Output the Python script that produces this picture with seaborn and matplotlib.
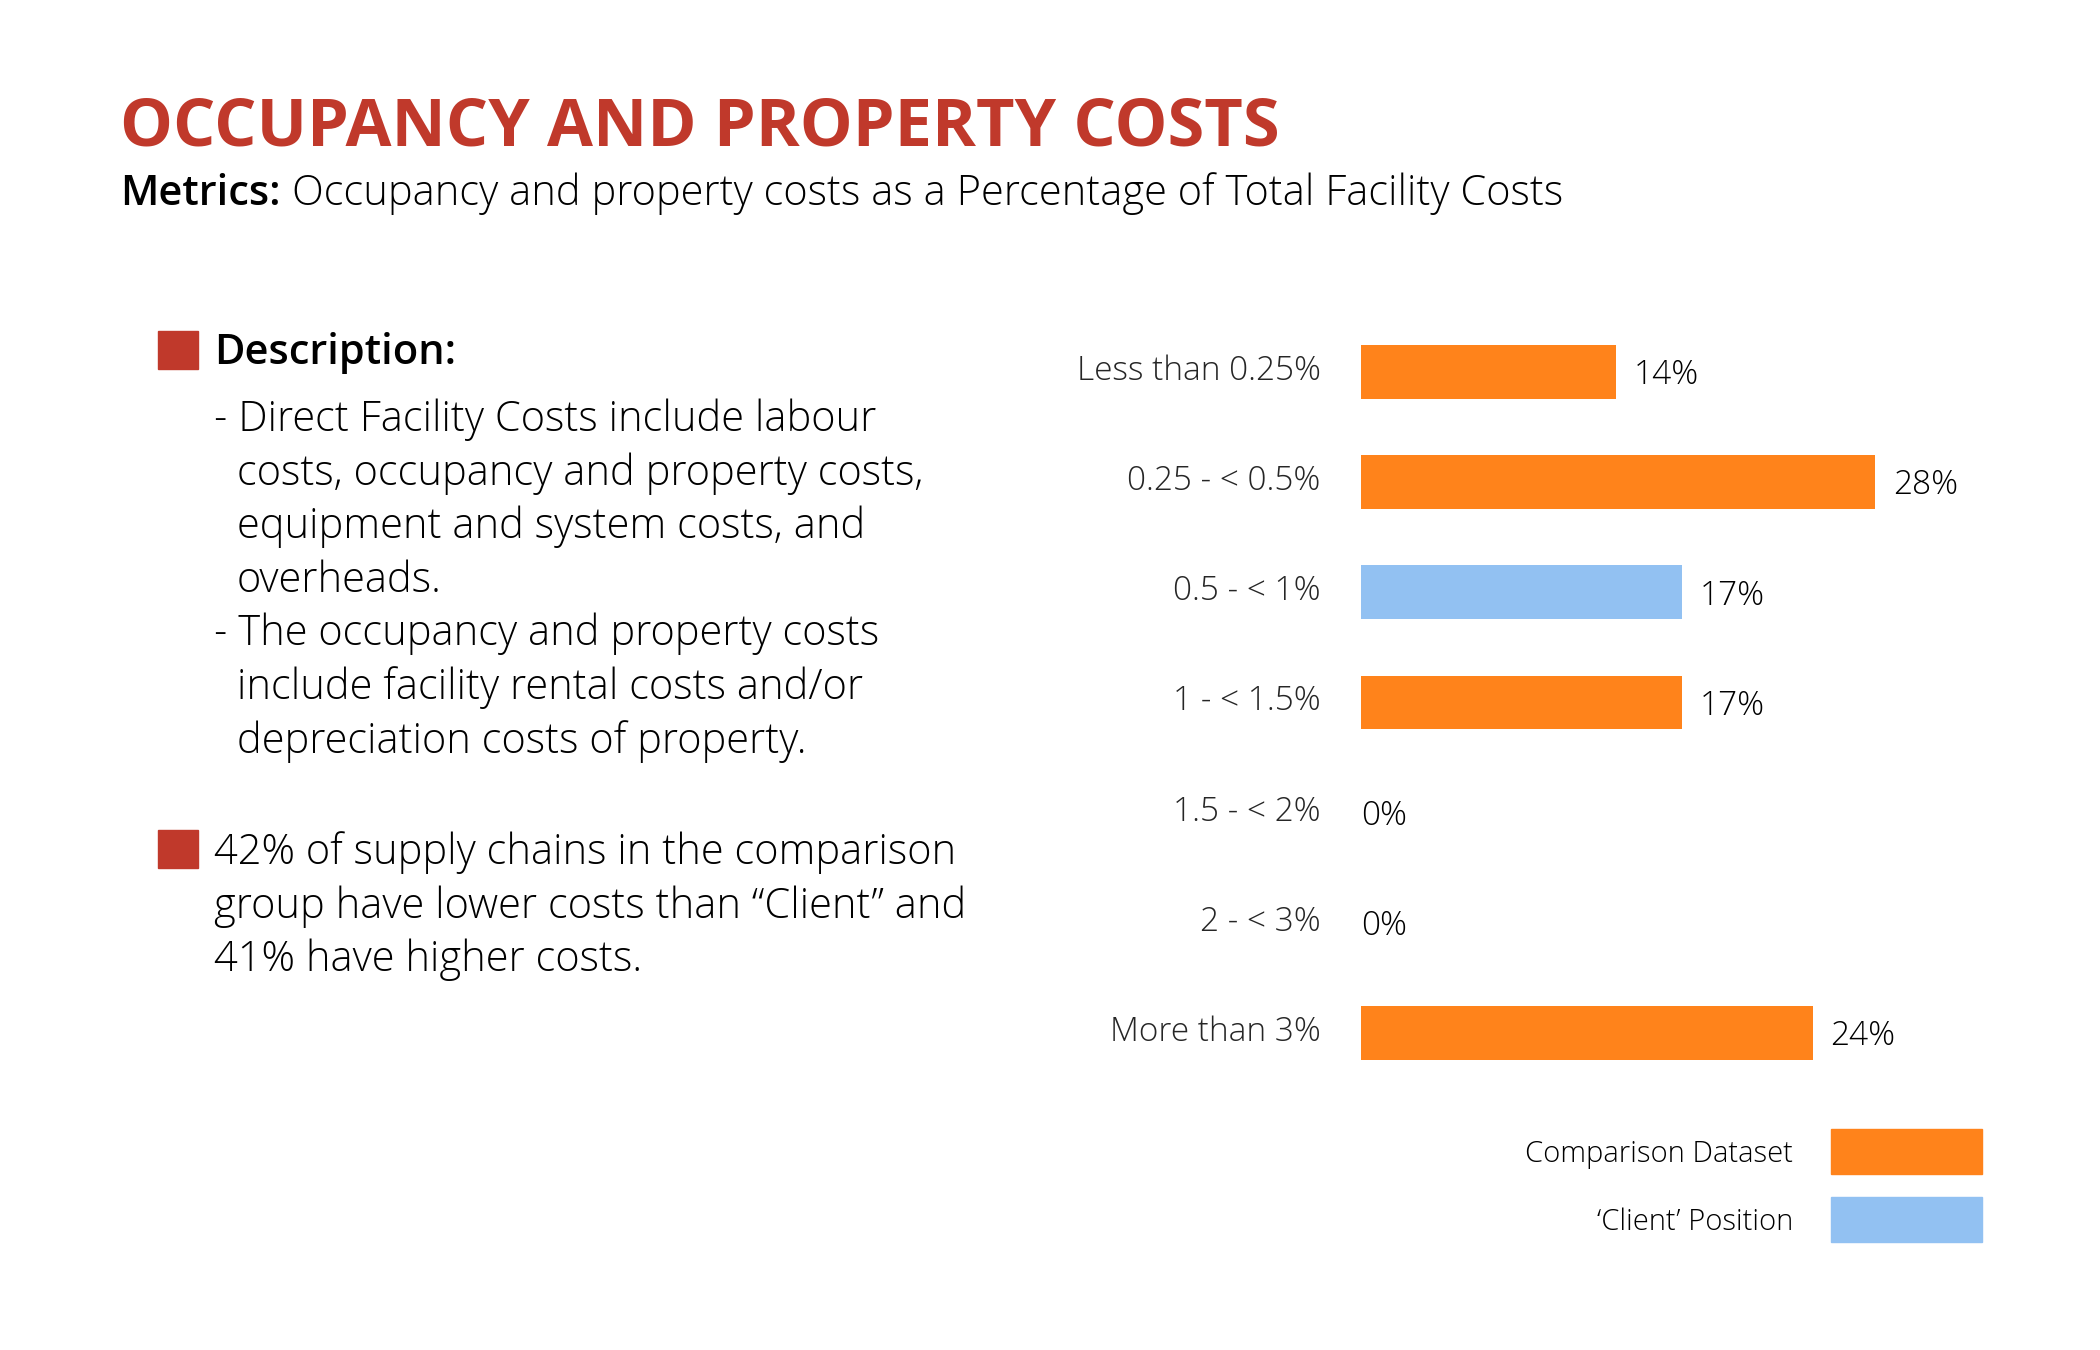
import matplotlib
matplotlib.use('Agg')
import matplotlib.pyplot as plt
from matplotlib.patches import Rectangle
from matplotlib.transforms import ScaledTranslation
import pandas as pd
import seaborn as sns

# data
categories = ['Less than 0.25%', '0.25 - < 0.5%', '0.5 - < 1%', '1 - < 1.5%',
              '1.5 - < 2%', '2 - < 3%', 'More than 3%']
values = [13.9, 28.0, 17.5, 17.5, 0, 0, 24.6]
value_labels = ['14%', '28%', '17%', '17%', '0%', '0%', '24%']
groups = ['Comparison Dataset', 'Comparison Dataset', '‘Client’ Position',
          'Comparison Dataset', 'Comparison Dataset', 'Comparison Dataset',
          'Comparison Dataset']
legend_order = ['Comparison Dataset', '‘Client’ Position']

title = 'OCCUPANCY AND PROPERTY COSTS'
subtitle_bold = 'Metrics:'
subtitle_rest = 'Occupancy and property costs as a Percentage of Total Facility Costs'
desc_heading = 'Description:'
desc_lines = ['- Direct Facility Costs include labour',
              'costs, occupancy and property costs,',
              'equipment and system costs, and',
              'overheads.',
              '- The occupancy and property costs',
              'include facility rental costs and/or',
              'depreciation costs of property.']
finding_lines = ['42% of supply chains in the comparison',
                 'group have lower costs than “Client” and',
                 '41% have higher costs.']

orange = '#FF831B'
blue = '#92C1F2'
red = '#C0392B'
palette = {legend_order[0]: orange, legend_order[1]: blue}

sns.set_theme(style='white')
plt.rcParams['font.family'] = ['Open Sans', 'DejaVu Sans']

W, H = 2100, 1350
fig = plt.figure(figsize=(21, 13.5), dpi=100)

def fx(px):
    return px / W

def fy(px):
    return 1 - px / H

# title block
fig.text(fx(120), fy(145), title, fontsize=48, fontweight='bold', color=red, va='baseline')
t = fig.text(fx(120), fy(205), subtitle_bold, fontsize=30, fontweight='semibold', color='black', va='baseline')
fig.canvas.draw()
bb = t.get_window_extent(fig.canvas.get_renderer())
fig.text(bb.x1 / W + fx(11), fy(205), subtitle_rest, fontsize=30, fontweight='light', color='black', va='baseline')

# left description
fig.patches.append(Rectangle((fx(158), fy(369)), fx(40), 38 / H, transform=fig.transFigure, color=red, figure=fig))
fig.text(fx(214), fy(364), desc_heading, fontsize=30, fontweight='semibold', color='black', va='baseline')
for i, line in enumerate(desc_lines):
    x = 214 if line.startswith('-') else 237
    fig.text(fx(x), fy(431 + i * 53.6), line, fontsize=30, fontweight='light', color='black', va='baseline')

fig.patches.append(Rectangle((fx(158), fy(868)), fx(40), 38 / H, transform=fig.transFigure, color=red, figure=fig))
for i, line in enumerate(finding_lines):
    fig.text(fx(214), fy(864 + i * 53.6), line, fontsize=30, fontweight='light', color='black', va='baseline')

# bar chart
df = pd.DataFrame({'Range': categories, 'Share': values, 'Group': groups})
ax = fig.add_axes([fx(1361), fy(1088), fx(551), 771 / H])
sns.barplot(data=df, x='Share', y='Range', hue='Group', hue_order=legend_order,
            palette=palette, dodge=False, width=0.49, saturation=1,
            linewidth=0, legend=False, ax=ax)
ax.set_xlim(0, 30)
ax.set_ylim(6.5, -0.5)
ax.set_xlabel('')
ax.set_ylabel('')
ax.set_xticks([])
sns.despine(ax=ax, left=True, bottom=True)
ax.tick_params(axis='y', length=0, pad=29, labelsize=24)
lift = ScaledTranslation(0, 3.5 / 72, fig.dpi_scale_trans)
for lab in ax.get_yticklabels():
    lab.set_fontweight('light')
    lab.set_transform(lab.get_transform() + lift)

for i, (v, lab) in enumerate(zip(values, value_labels)):
    ax.annotate(lab, xy=(v, i), xytext=(12.5 if v > 0 else 0, -2.5), textcoords='offset points',
                ha='left', va='center', fontsize=24, fontweight='light', color='black')

# legend: label on the left, swatch on the right
for j, name in enumerate(legend_order):
    top = 1129 + j * 68
    fig.patches.append(Rectangle((fx(1831), fy(top + 45)), fx(151), 45 / H,
                                 transform=fig.transFigure, color=palette[name], figure=fig))
    fig.text(fx(1793), fy(top + 22), name, fontsize=21, fontweight='light',
             color='black', ha='right', va='center_baseline')

fig.savefig('out.png', dpi=100, facecolor='white')
